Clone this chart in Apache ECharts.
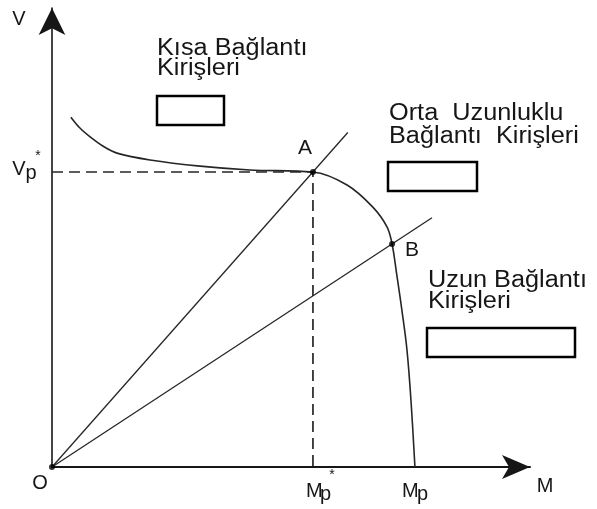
<!DOCTYPE html>
<html>
<head>
<meta charset="utf-8">
<script src="https://cdn.jsdelivr.net/npm/echarts@6/dist/echarts.min.js"></script>
<style>
  html, body { margin: 0; padding: 0; background: #fff; }
  #chart { width: 597px; height: 509px; }
</style>
</head>
<body>
<div id="chart"></div>
<script>
// Interaction curve: moment M (in units of Mp) against shear V (in units of Vp*)
const curveM = [0.052, 0.077, 0.105, 0.140, 0.179, 0.270, 0.408, 0.545, 0.719, 0.813, 0.884, 0.923, 0.937, 0.950, 0.964, 0.978, 0.989, 1.000];
const curveV = [1.186, 1.149, 1.119, 1.088, 1.064, 1.041, 1.020, 1.007, 1.000, 0.956, 0.881, 0.814, 0.756, 0.651, 0.532, 0.397, 0.227, 0.000];

// Characteristic points on the curve
const pointA = [0.719, 1.000];
const pointB = [0.937, 0.756];

// Far ends of the two rays drawn from the origin through A and B
const rayEndA = [0.815, 1.134];
const rayEndB = [1.047, 0.845];

// Axis extents (arrow tips)
const mMax = 1.317;
const vMax = 1.556;

// Text blocks
const blockKisa = ['Kısa Bağlantı', 'Kirişleri'];
const blockOrta = ['Orta  Uzunluklu', 'Bağlantı  Kirişleri'];
const blockUzun = ['Uzun Bağlantı', 'Kirişleri'];

const INK = '#161616';
const FONT = '"Liberation Sans", Arial, sans-serif';

const chart = echarts.init(document.getElementById('chart'), null, { renderer: 'canvas' });

const curve = curveM.map((m, i) => [m, curveV[i]]);

chart.setOption({
  animation: false,
  backgroundColor: '#fff',
  grid: { left: 52, top: 8, width: 478, height: 459, containLabel: false },
  xAxis: {
    type: 'value', min: 0, max: mMax,
    axisLine: { show: true, symbol: ['none', 'arrow'], symbolSize: [18, 28], lineStyle: { color: INK, width: 2 } },
    axisTick: { show: false }, axisLabel: { show: false }, splitLine: { show: false }
  },
  yAxis: {
    type: 'value', min: 0, max: vMax,
    axisLine: { show: true, symbol: ['none', 'arrow'], symbolSize: [20, 27], lineStyle: { color: INK, width: 1.6 } },
    axisTick: { show: false }, axisLabel: { show: false }, splitLine: { show: false }
  },
  series: [
    {
      type: 'line', data: curve, smooth: 0.35, symbol: 'none',
      lineStyle: { color: '#262626', width: 1.6 }, z: 3
    },
    {
      type: 'line', data: [[0, 0], rayEndA], symbol: 'none',
      lineStyle: { color: '#262626', width: 1.3 }
    },
    {
      type: 'line', data: [[0, 0], rayEndB], symbol: 'none',
      lineStyle: { color: '#262626', width: 1.3 }
    },
    {
      type: 'line', data: [[0, pointA[1]], pointA, [pointA[0], 0]], symbol: 'none',
      lineStyle: { color: '#262626', width: 1.7, type: [11, 6] }
    },
    {
      type: 'scatter', data: [[0, 0], pointA, pointB], symbol: 'circle', symbolSize: 6,
      itemStyle: { color: '#000' }, z: 5
    }
  ]
});

// Place a label made of pieces relative to a data point
function pieces(dataPt, parts) {
  const p = chart.convertToPixel({ gridIndex: 0 }, dataPt);
  return parts.map(t => ({
    type: 'text', silent: true,
    style: {
      text: t.text, x: p[0] + t.dx, y: p[1] + t.dy,
      font: (t.size || 19) + 'px ' + FONT, fill: INK,
      textAlign: t.align || 'center', textVerticalAlign: 'middle'
    }
  }));
}

// Two-line caption, slightly widened type
function block(lines, x, y0, gap, size) {
  return lines.map((s, i) => ({
    type: 'text', silent: true,
    x: x, y: y0 + i * gap, scaleX: 1.1,
    style: { text: s, x: 0, y: 0, font: size + 'px ' + FONT, fill: INK, textAlign: 'left', textVerticalAlign: 'middle' }
  }));
}

function box(x, y, w, h) {
  return { type: 'rect', silent: true, shape: { x: x, y: y, width: w, height: h }, style: { fill: '#fff', stroke: '#000', lineWidth: 2.5 } };
}

const graphics = [].concat(
  pieces([0, vMax], [{ text: 'V', dx: -33, dy: 11, size: 20 }]),
  pieces([mMax, 0], [{ text: 'M', dx: 15, dy: 19, size: 20 }]),
  pieces([0, 0], [{ text: 'O', dx: -12, dy: 16, size: 20 }]),
  pieces([0, pointA[1]], [
    { text: 'V', dx: -33, dy: -3, size: 20 },
    { text: 'p', dx: -21, dy: 1, size: 20 },
    { text: '*', dx: -14, dy: -16, size: 14 }
  ]),
  pieces([pointA[0], 0], [
    { text: 'M', dx: -7, dy: 24, align: 'left', size: 20 },
    { text: 'p', dx: 7, dy: 27, align: 'left', size: 20 },
    { text: '*', dx: 19, dy: 8, size: 14 }
  ]),
  pieces([1, 0], [
    { text: 'M', dx: -13, dy: 24, align: 'left', size: 20 },
    { text: 'p', dx: 2, dy: 27, align: 'left', size: 20 }
  ]),
  pieces(pointA, [{ text: 'A', dx: -8, dy: -24, size: 21 }]),
  pieces(pointB, [{ text: 'B', dx: 20, dy: 6, size: 21 }]),
  block(blockKisa, 157, 49, 20, 23),
  block(blockOrta, 389, 114, 23, 23),
  block(blockUzun, 428, 281, 21, 23),
  [box(157, 96, 67, 29), box(388, 162, 89, 29), box(427, 328, 148, 29)]
);

chart.setOption({ graphic: graphics });
</script>
</body>
</html>
